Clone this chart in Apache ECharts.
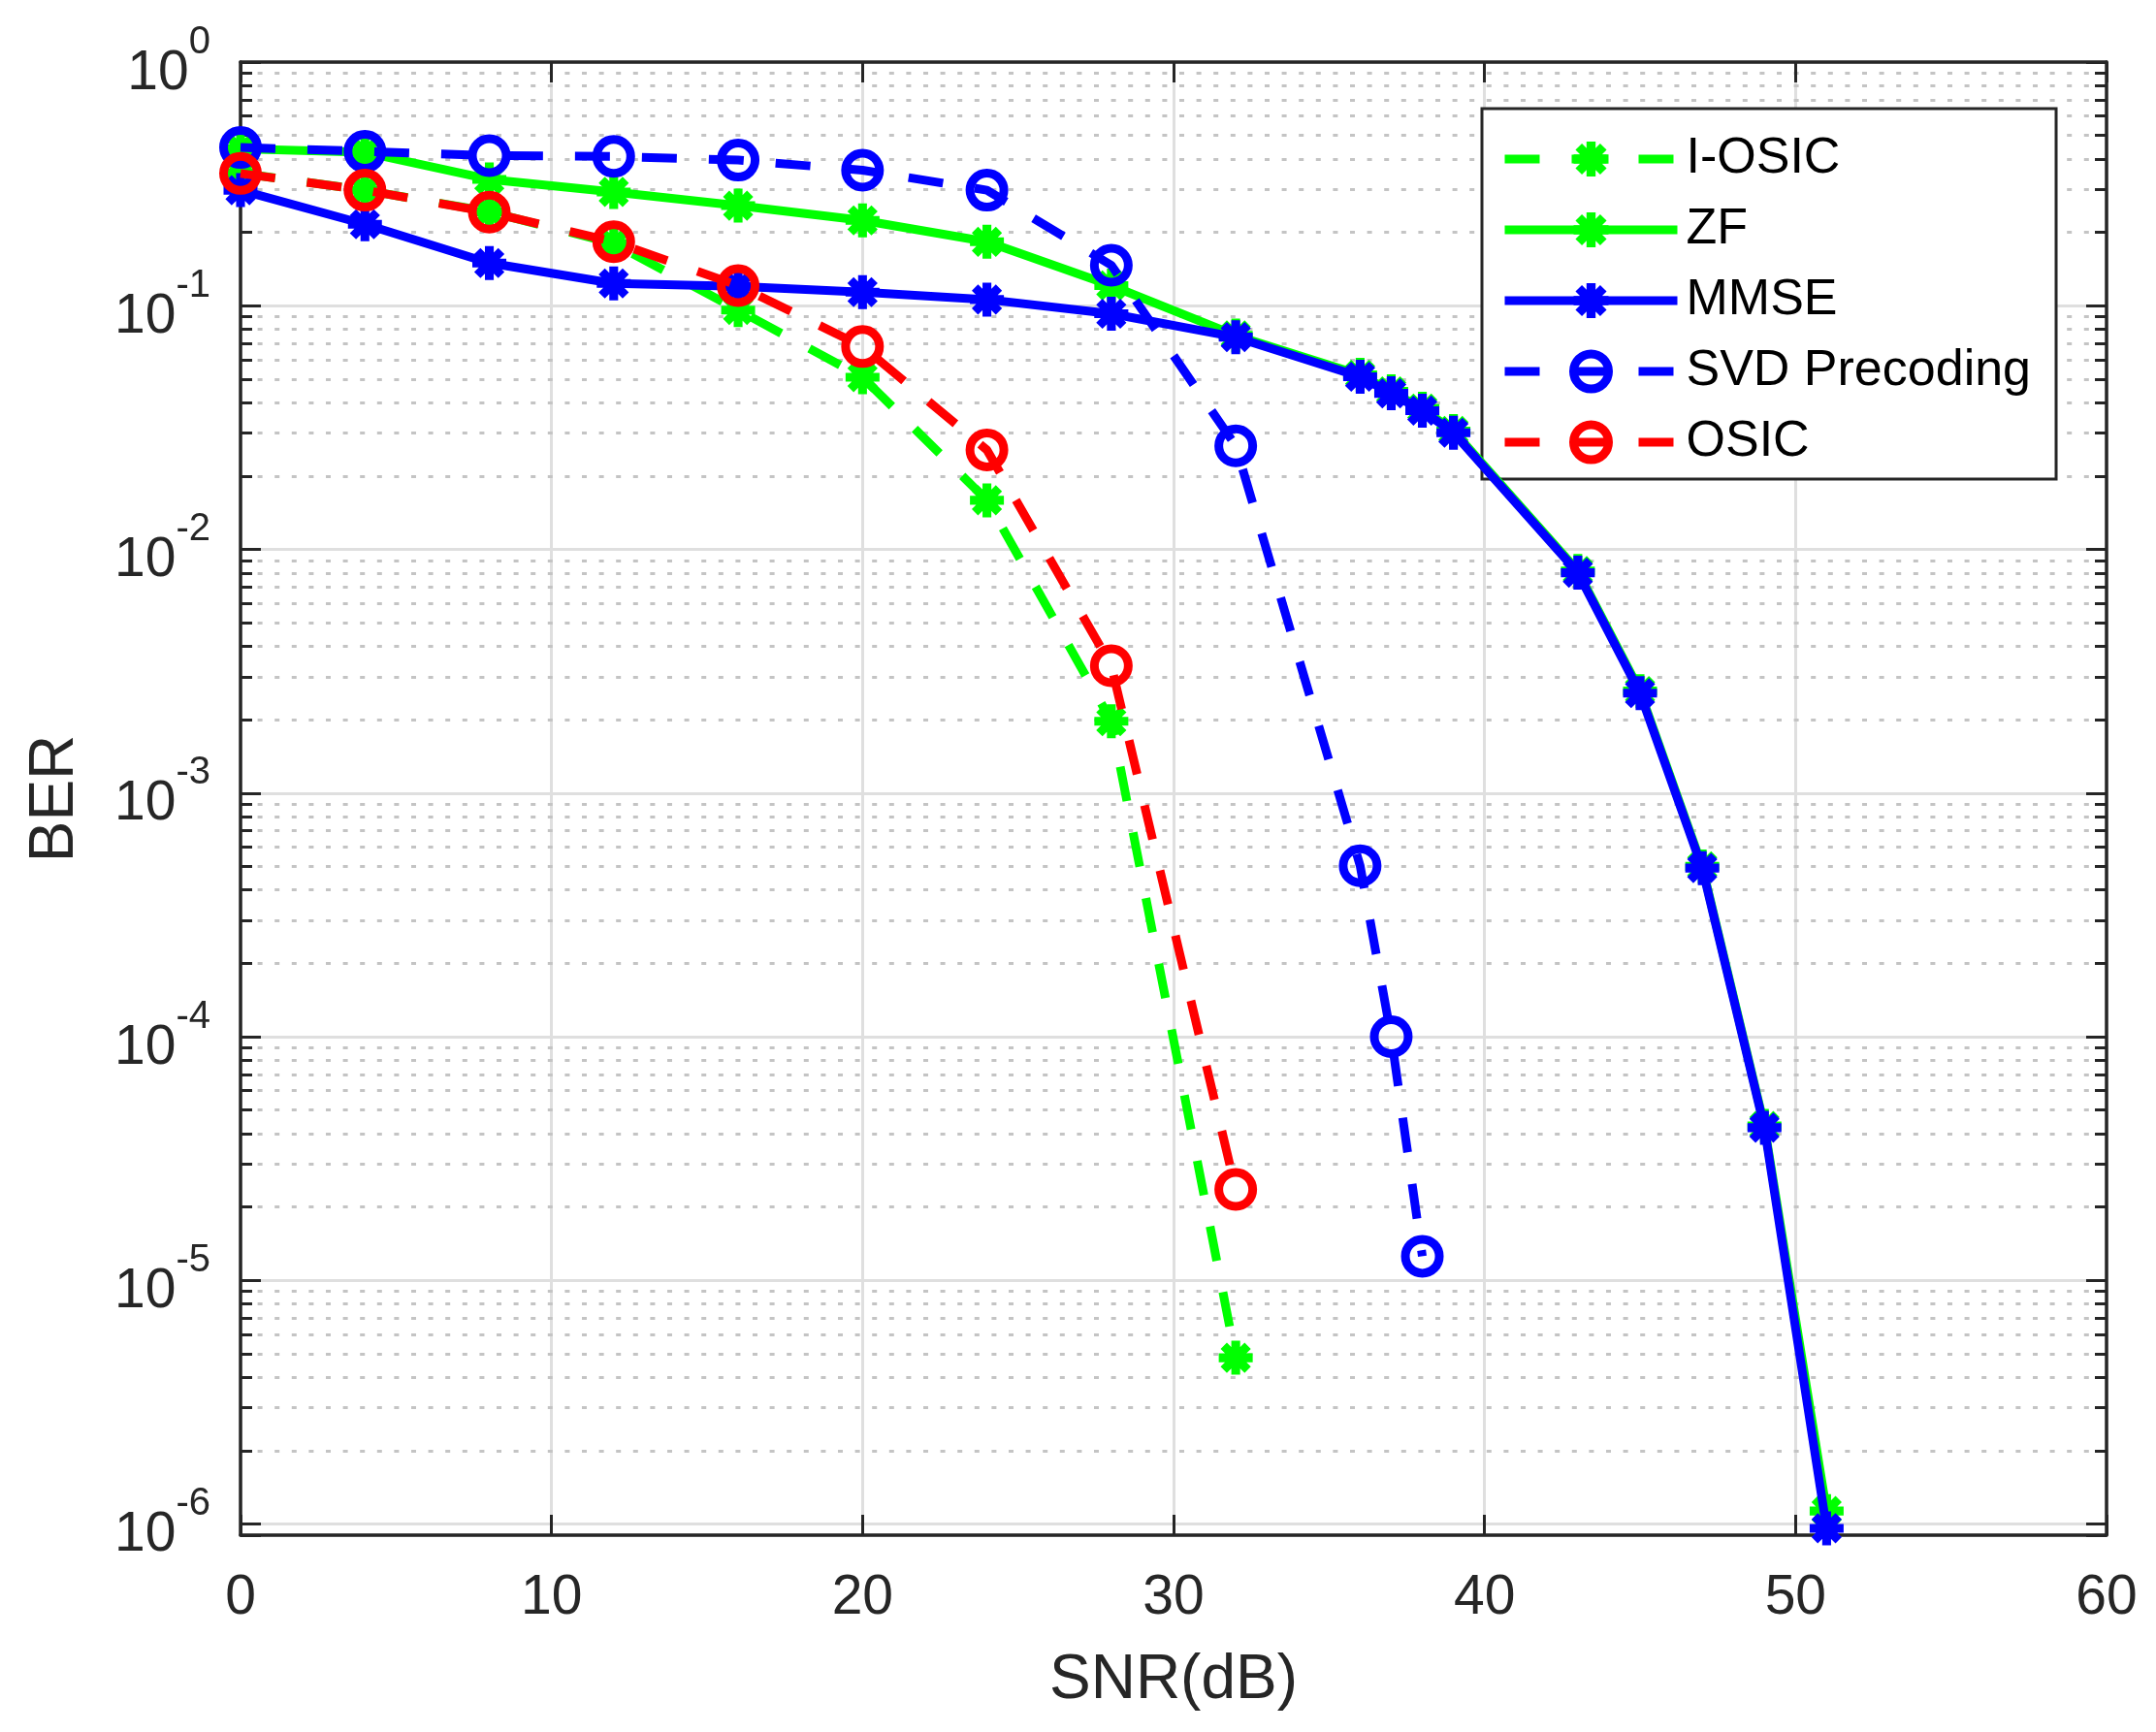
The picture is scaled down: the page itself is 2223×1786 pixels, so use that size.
<!DOCTYPE html>
<html>
<head>
<meta charset="utf-8">
<script src="https://cdn.jsdelivr.net/npm/echarts@6/dist/echarts.min.js"></script>
<style>
html,body{margin:0;padding:0;background:#fff;}
#c{width:2223px;height:1786px;}
</style>
</head>
<body>
<div id="c"></div>
<script>
// ---- data ----
const snrOsic = [0, 4, 8, 12, 16, 20, 24, 28, 32];
const berIOsic = [0.35, 0.298, 0.243, 0.18, 0.096, 0.0509, 0.0159, 0.00197, 4.81e-6];
const berOsic = [0.349, 0.298, 0.242, 0.183, 0.121, 0.068, 0.0256, 0.00333, 2.36e-5];

const snrSvd = [0, 4, 8, 12, 16, 20, 24, 28, 32, 36, 37, 38];
const berSvd = [0.446, 0.43, 0.413, 0.41, 0.396, 0.36, 0.298, 0.1466, 0.0266, 5.03e-4, 1.0e-4, 1.256e-5];

const snrLin = [0, 4, 8, 12, 16, 20, 24, 28, 32, 36, 37, 38, 39, 43, 45, 47, 49, 51];
const berZf = [0.44, 0.426, 0.33, 0.293, 0.2575, 0.224, 0.183, 0.121, 0.0755, 0.052, 0.0445, 0.0378, 0.0306, 8.15e-3, 2.62e-3, 5.0e-4, 4.3e-5, 1.13e-6];
const berMmse = [0.298, 0.216, 0.1497, 0.1235, 0.12, 0.1137, 0.106, 0.0927, 0.0743, 0.0511, 0.0437, 0.0371, 0.0301, 8.02e-3, 2.57e-3, 4.92e-4, 4.23e-5, 9.6e-7];

const seriesNames = ['I-OSIC', 'ZF', 'MMSE', 'SVD Precoding', 'OSIC'];
const xTickLabels = ['0', '10', '20', '30', '40', '50', '60'];
const yDecades = [-6, -5, -4, -3, -2, -1, 0];
const mantissas = [2, 3, 4, 5, 6, 7, 8, 9];

// ---- styles ----
const FONT = 'Liberation Sans';
const AX = '#262626';
const GREEN = '#00ff00', BLUE = '#0000ff', RED = '#ff0000';
const X_MIN = 0, X_MAX = 60, X_INT = 10;
const Y_MIN = 9.0e-7, Y_MAX = 1;
const MINOR_TICK_X = 0.374;  // minor tick length in x units (~12px)
const LW = 9;
const DASH = [36, 33];
const asterisk = 'path://M37 0L63 0L63 100L37 100Z M0 37L100 37L100 63L0 63Z M23.83 5.45L94.55 76.17L76.17 94.55L5.45 23.83Z M76.17 5.45L94.55 23.83L23.83 94.55L5.45 76.17Z';

function pairs(xs, ys) { return xs.map((x, i) => [x, ys[i]]); }

const minorVals = [];
yDecades.forEach(k => { if (k < 0) mantissas.forEach(m => minorVals.push(m * Math.pow(10, k))); });

const gridLines = minorVals.map(v => [{ coord: [X_MIN, v] }, { coord: [X_MAX, v] }]);
const minorTicks = [];
minorVals.forEach(v => {
  minorTicks.push([{ coord: [X_MIN, v] }, { coord: [X_MIN + MINOR_TICK_X, v] }]);
  minorTicks.push([{ coord: [X_MAX - MINOR_TICK_X, v] }, { coord: [X_MAX, v] }]);
});

function yFmt(v) {
  const l = Math.log10(v);
  const k = Math.round(l);
  if (Math.abs(l - k) > 1e-6) return '';
  return '{b|10}{e|' + k + '}{s|\u200b}';
}

function lineSeries(name, xs, ys, color, dashed, circle, z) {
  return {
    name: name, type: 'line', data: pairs(xs, ys), z: z,
    clip: false, animation: false, silent: true,
    symbol: circle ? 'circle' : asterisk,
    symbolSize: 35,
    showAllSymbol: true,
    lineStyle: { color: color, width: LW, type: dashed ? DASH : 'solid', cap: 'butt' },
    itemStyle: circle
      ? { color: 'rgba(0,0,0,0)', borderColor: color, borderWidth: LW }
      : { color: color, borderWidth: 0 },
    emphasis: { disabled: true }
  };
}

function legendItem(name, color, dashed, circle) {
  return {
    name: name,
    itemStyle: circle
      ? { color: 'rgba(0,0,0,0)', borderColor: color, borderWidth: LW }
      : { color: color, borderWidth: 0 },
    lineStyle: { color: color, width: LW, type: dashed ? DASH : 'solid', cap: 'butt' }
  };
}

const chart = echarts.init(document.getElementById('c'), null, { renderer: 'canvas' });
const option = {
  backgroundColor: '#fff',
  animation: false,
  textStyle: { fontFamily: FONT },
  grid: { left: 248, top: 64, width: 1924, height: 1519, containLabel: false },
  legend: {
    show: true,
    orient: 'vertical',
    left: 1528, top: 112,
    itemWidth: 178, itemHeight: 45, itemGap: 21,
    padding: [26, 26, 12, 19],
    backgroundColor: '#fff',
    borderColor: AX, borderWidth: 3, borderRadius: 0,
    textStyle: { fontFamily: FONT, fontSize: 52, color: '#000', padding: [0, 0, 0, 4] },
    data: [
      legendItem(seriesNames[0], GREEN, true, false),
      legendItem(seriesNames[1], GREEN, false, false),
      legendItem(seriesNames[2], BLUE, false, false),
      legendItem(seriesNames[3], BLUE, true, true),
      legendItem(seriesNames[4], RED, true, true)
    ],
    selectedMode: false
  },
  xAxis: [
    {
      type: 'value', position: 'bottom', min: X_MIN, max: X_MAX, interval: X_INT,
      name: 'SNR(dB)', nameLocation: 'middle', nameGap: 118,
      nameTextStyle: { fontFamily: FONT, fontSize: 64, lineHeight: 64, color: AX },
      axisLine: { show: true, onZero: false, lineStyle: { color: AX, width: 3.5 } },
      axisTick: { show: true, inside: true, length: 21, lineStyle: { color: AX, width: 3 } },
      axisLabel: {
        show: true, margin: 37, fontFamily: FONT, fontSize: 57, lineHeight: 57, color: AX,
        formatter: v => xTickLabels[Math.round((v - X_MIN) / X_INT)] || ''
      },
      splitLine: { show: true, lineStyle: { color: '#dfdfdf', width: 3 } },
      minorTick: { show: false }, minorSplitLine: { show: false }
    },
    {
      type: 'value', position: 'top', min: X_MIN, max: X_MAX, interval: X_INT,
      axisLine: { show: true, onZero: false, lineStyle: { color: AX, width: 3.5 } },
      axisTick: { show: true, inside: true, length: 21, lineStyle: { color: AX, width: 3 } },
      axisLabel: { show: false },
      splitLine: { show: false }
    }
  ],
  yAxis: [
    {
      type: 'log', logBase: 10, position: 'left', min: Y_MIN, max: Y_MAX, splitNumber: 6,
      name: 'BER', nameLocation: 'middle', nameGap: 159,
      nameTextStyle: { fontFamily: FONT, fontSize: 64, lineHeight: 64, color: AX },
      axisLine: { show: true, onZero: false, lineStyle: { color: AX, width: 3.5 } },
      axisTick: { show: true, inside: true, length: 21, lineStyle: { color: AX, width: 3 } },
      axisLabel: {
        show: true, margin: 31, color: AX, fontFamily: FONT,
        formatter: yFmt,
        rich: {
          b: { fontFamily: FONT, fontSize: 57, lineHeight: 57, verticalAlign: 'bottom', color: AX },
          e: { fontFamily: FONT, fontSize: 40, lineHeight: 60, verticalAlign: 'top', color: AX },
          s: { fontFamily: FONT, fontSize: 1, lineHeight: 81 }
        }
      },
      splitLine: { show: true, lineStyle: { color: '#dfdfdf', width: 3 } },
      minorTick: { show: false }, minorSplitLine: { show: false }
    },
    {
      type: 'log', logBase: 10, position: 'right', min: Y_MIN, max: Y_MAX, splitNumber: 6,
      axisLine: { show: true, onZero: false, lineStyle: { color: AX, width: 3.5 } },
      axisTick: { show: true, inside: true, length: 21, lineStyle: { color: AX, width: 3 } },
      axisLabel: { show: false },
      splitLine: { show: false }
    }
  ],
  series: [
    {
      name: '_minorGrid', type: 'line', data: [[X_MIN, Y_MAX]], showSymbol: false, z: 0,
      lineStyle: { opacity: 0 }, silent: true, animation: false,
      markLine: {
        silent: true, animation: false, symbol: ['none', 'none'], z: 0,
        label: { show: false },
        lineStyle: { color: '#c4c4c4', width: 3, type: [5, 12.6] },
        emphasis: { disabled: true },
        data: gridLines
      }
    },
    {
      name: '_minorTicks', type: 'line', data: [[X_MIN, Y_MAX]], showSymbol: false, z: 1,
      lineStyle: { opacity: 0 }, silent: true, animation: false,
      markLine: {
        silent: true, animation: false, symbol: ['none', 'none'], z: 1,
        label: { show: false },
        lineStyle: { color: AX, width: 3, type: 'solid' },
        emphasis: { disabled: true },
        data: minorTicks
      }
    },
    lineSeries(seriesNames[0], snrOsic, berIOsic, GREEN, true, false, 3),
    lineSeries(seriesNames[1], snrLin, berZf, GREEN, false, false, 4),
    lineSeries(seriesNames[2], snrLin, berMmse, BLUE, false, false, 5),
    lineSeries(seriesNames[3], snrSvd, berSvd, BLUE, true, true, 6),
    lineSeries(seriesNames[4], snrOsic, berOsic, RED, true, true, 7)
  ]
};
chart.setOption(option);
</script>
</body>
</html>
